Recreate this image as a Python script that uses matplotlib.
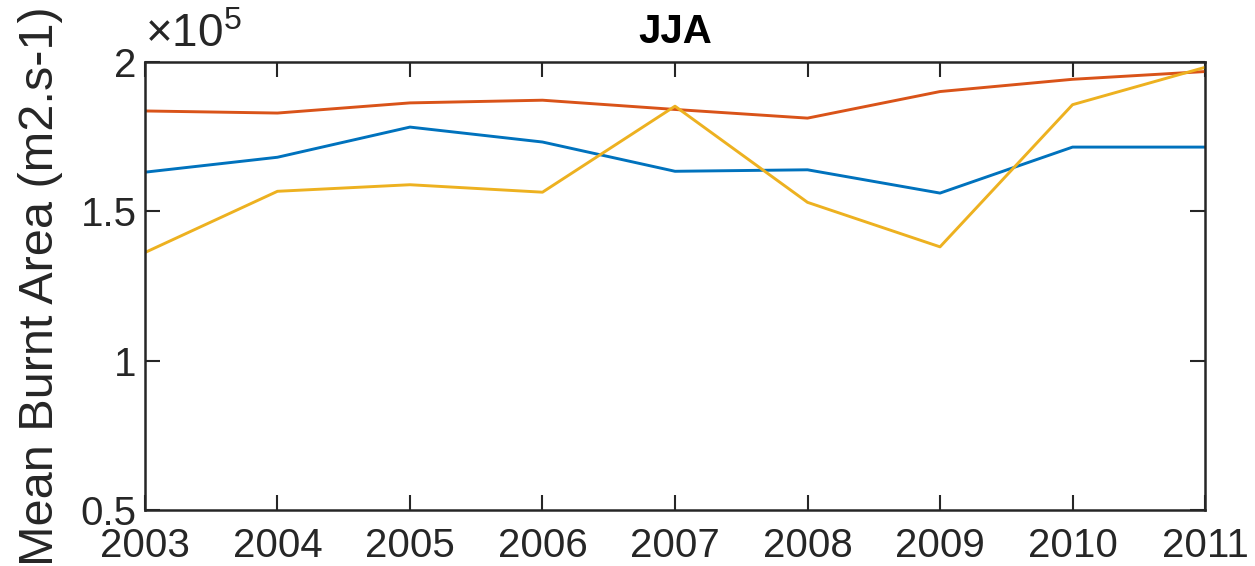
import matplotlib.pyplot as plt
from matplotlib.ticker import FuncFormatter

plt.rcParams['font.family'] = 'Liberation Sans'
plt.rcParams['mathtext.fontset'] = 'custom'
plt.rcParams['mathtext.rm'] = 'Liberation Sans'

# Data (values in m2.s-1)
years = [2003, 2004, 2005, 2006, 2007, 2008, 2009, 2010, 2011]
blue = [1.631e5, 1.681e5, 1.782e5, 1.732e5, 1.634e5, 1.639e5, 1.561e5, 1.715e5, 1.715e5]
red = [1.836e5, 1.829e5, 1.863e5, 1.872e5, 1.841e5, 1.812e5, 1.901e5, 1.942e5, 1.968e5]
yellow = [1.362e5, 1.567e5, 1.589e5, 1.564e5, 1.852e5, 1.530e5, 1.381e5, 1.857e5, 1.982e5]
yticks = [0.5e5, 1e5, 1.5e5, 2e5]

fig = plt.figure(figsize=(12.55, 5.66), dpi=100)
ax = fig.add_axes([0.1155, 0.099, 0.8447, 0.7915])

ax.plot(years, blue, color='#0072BD', lw=2.1)
ax.plot(years, red, color='#D95319', lw=2.1)
ax.plot(years, yellow, color='#EDB120', lw=2.1)

ax.set_xlim(2003, 2011)
ax.set_ylim(0.5e5, 2e5)
ax.set_xticks(years)
ax.set_yticks(yticks)
ax.yaxis.set_major_formatter(FuncFormatter(lambda v, p: '%g' % (v / 1e5)))

ax.tick_params(direction='in', length=11, width=1.5, top=True, right=True,
               labelsize=29, colors='#262626', pad=6)
ax.tick_params(axis='x', pad=12)
for s in ax.spines.values():
    s.set_linewidth(1.8)
    s.set_color('#262626')

ax.set_title('JJA', fontsize=29, fontweight='bold', pad=14)
ax.set_ylabel('Mean Burnt Area (m2.s-1)', fontsize=35, color='#262626')
ax.yaxis.set_label_coords(-0.077, 0.5)
ax.text(0.0, 1.01, r'$\times10^{5}$', transform=ax.transAxes, fontsize=33,
        color='#262626', ha='left', va='bottom')

plt.savefig('out.png', dpi=100)
